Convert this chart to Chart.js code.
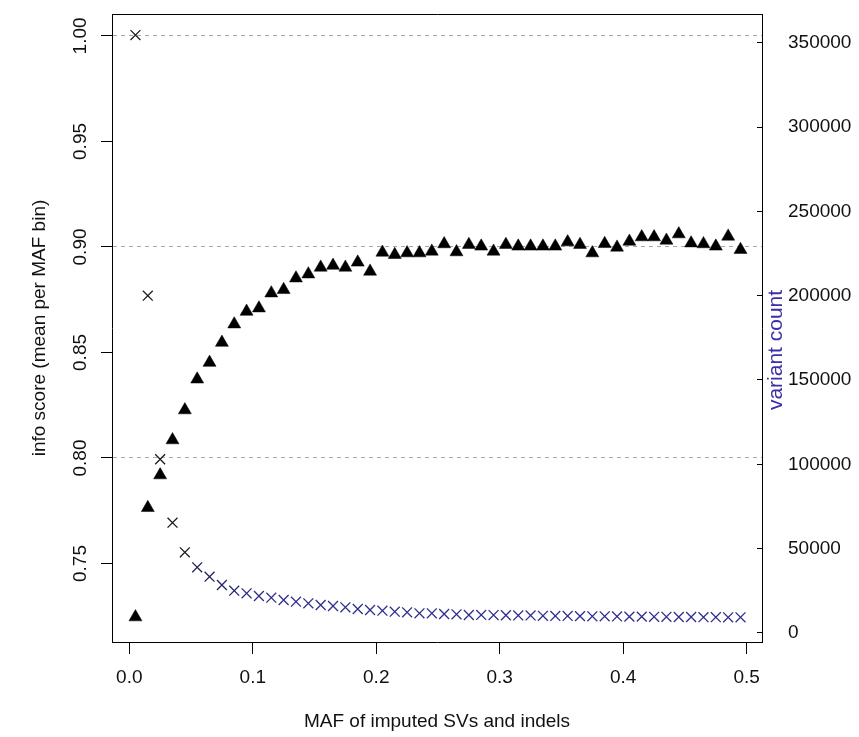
<!DOCTYPE html>
<html>
<head>
<meta charset="utf-8">
<script src="https://cdn.jsdelivr.net/npm/chart.js@4.4.1/dist/chart.umd.min.js"></script>
<style>
  html, body { margin: 0; padding: 0; background: #ffffff; }
  #wrap { width: 859px; height: 737px; }
</style>
</head>
<body>
<div id="wrap"><canvas id="c" width="859" height="737"></canvas></div>
<script>
// MAF bin centres
const mafBins = [0.005, 0.015, 0.025, 0.035, 0.045, 0.055, 0.065, 0.075, 0.085, 0.095,
                 0.105, 0.115, 0.125, 0.135, 0.145, 0.155, 0.165, 0.175, 0.185, 0.195,
                 0.205, 0.215, 0.225, 0.235, 0.245, 0.255, 0.265, 0.275, 0.285, 0.295,
                 0.305, 0.315, 0.325, 0.335, 0.345, 0.355, 0.365, 0.375, 0.385, 0.395,
                 0.405, 0.415, 0.425, 0.435, 0.445, 0.455, 0.465, 0.475, 0.485, 0.495];

// mean info score per MAF bin (left axis, triangles)
const infoScore = [0.7246, 0.7764, 0.7919, 0.8085, 0.8227, 0.8373, 0.8452, 0.8547, 0.8634, 0.8694,
                   0.8710, 0.8781, 0.8797, 0.8852, 0.8871, 0.8903, 0.8912, 0.8903, 0.8927, 0.8884,
                   0.8974, 0.8963, 0.8971, 0.8971, 0.8979, 0.9014, 0.8976, 0.9011, 0.9003, 0.8979,
                   0.9011, 0.9003, 0.9003, 0.9003, 0.9003, 0.9023, 0.9011, 0.8971, 0.9015, 0.8998,
                   0.9026, 0.9047, 0.9047, 0.9031, 0.9061, 0.9018, 0.9014, 0.9003, 0.9050, 0.8987];

// variant count per MAF bin (right axis, crosses)
const variantCount = [354500, 200000, 103000, 65400, 47850, 38950, 33400, 28460, 25080, 23540,
                      21940, 20930, 19570, 18560, 17610, 16600, 16010, 15240, 14230, 13640,
                      13220, 12630, 12270, 11680, 11680, 11270, 11090, 10670, 10700, 10600,
                      10500, 10400, 10400, 10200, 10100, 10100, 10000, 9900, 9900, 9800,
                      9700, 9700, 9600, 9600, 9500, 9500, 9400, 9400, 9300, 9300];

// tick labels
const xTicks = [0.0, 0.1, 0.2, 0.3, 0.4, 0.5];
const leftTicks = [0.75, 0.80, 0.85, 0.90, 0.95, 1.00];
const rightTicks = [0, 50000, 100000, 150000, 200000, 250000, 300000, 350000];

const FONT = 'Liberation Sans, Arial, sans-serif';

const triPoints = mafBins.map((x, i) => ({ x: x, y: infoScore[i] }));
const crossPoints = mafBins.map((x, i) => ({ x: x, y: variantCount[i] }));

function crossColor(ctx) {
  const i = ctx.dataIndex;
  if (i < 5) return '#1c1c1c';
  if (i < 7) return '#1f1f55';
  if (i < 9) return '#25256e';
  return '#2e2e8c';
}

const rightTitlePlugin = {
  id: 'rightTitle',
  afterDraw(chart) {
    const ctx = chart.ctx;
    ctx.save();
    ctx.translate(776, 350);
    ctx.rotate(-Math.PI / 2);
    ctx.font = '21px ' + FONT;
    ctx.fillStyle = '#3a30a8';
    ctx.textAlign = 'center';
    ctx.textBaseline = 'middle';
    ctx.fillText('variant count', 0, 0);
    ctx.restore();
  }
};

function noVPad(s) { s.paddingTop = 0; s.paddingBottom = 0; }

new Chart(document.getElementById('c'), {
  type: 'scatter',
  data: {
    datasets: [
      {
        label: 'variant count',
        data: crossPoints,
        yAxisID: 'y2',
        xAxisID: 'x',
        pointStyle: 'crossRot',
        pointRadius: 7,
        pointBorderWidth: 1.3,
        borderColor: crossColor,
        backgroundColor: crossColor,
        showLine: false,
        order: 2
      },
      {
        label: 'info score',
        data: triPoints,
        yAxisID: 'y',
        xAxisID: 'x',
        pointStyle: 'triangle',
        pointRadius: 7.5,
        pointBorderWidth: 0.5,
        borderColor: '#000000',
        backgroundColor: '#000000',
        showLine: false,
        order: 1
      }
    ]
  },
  options: {
    responsive: false,
    maintainAspectRatio: false,
    animation: false,
    devicePixelRatio: 1,
    layout: { padding: 0 },
    plugins: {
      legend: { display: false },
      tooltip: { enabled: false }
    },
    scales: {
      x: {
        type: 'linear',
        position: 'bottom',
        min: -0.014,
        max: 0.5124,
        afterBuildTicks: (s) => { s.ticks = xTicks.map(v => ({ value: v })); },
        afterFit: (s) => { s.height = 95; },
        ticks: {
          color: '#111111',
          font: { family: FONT, size: 19 },
          padding: 12.6,
          maxRotation: 0,
          minRotation: 0,
          callback: (v) => Number(v).toFixed(1)
        },
        grid: {
          drawOnChartArea: false,
          drawTicks: true,
          tickLength: 12,
          tickColor: '#000000',
          tickWidth: 1
        },
        border: { display: true, color: '#000000', width: 1 },
        title: {
          display: true,
          text: 'MAF of imputed SVs and indels',
          color: '#111111',
          font: { family: FONT, size: 19 },
          padding: { top: 0, bottom: 3.6 }
        }
      },
      xTop: {
        type: 'linear',
        position: 'top',
        min: -0.014,
        max: 0.5124,
        afterFit: (s) => { s.height = 14; },
        ticks: { display: false },
        grid: { drawOnChartArea: false, drawTicks: false },
        border: { display: true, color: '#000000', width: 1 }
      },
      y: {
        type: 'linear',
        position: 'left',
        min: 0.7128,
        max: 1.0104,
        afterBuildTicks: (s) => { s.ticks = leftTicks.map(v => ({ value: v })); },
        afterFit: (s) => { s.width = 112; noVPad(s); },
        ticks: {
          color: '#111111',
          font: { family: FONT, size: 19 },
          padding: 1.5,
          minRotation: 90,
          maxRotation: 90,
          crossAlign: 'center',
          callback: (v) => Number(v).toFixed(2)
        },
        grid: {
          drawOnChartArea: true,
          drawTicks: true,
          tickLength: 11,
          tickColor: '#000000',
          tickWidth: 1,
          lineWidth: 1,
          color: (ctx) => {
            const v = ctx.tick ? ctx.tick.value : 0;
            return Math.abs(v * 10 - Math.round(v * 10)) < 1e-6 ? '#a8a8a8' : 'rgba(0,0,0,0)';
          }
        },
        border: { display: true, color: '#000000', width: 1, dash: [4, 4] },
        title: {
          display: true,
          text: 'info score (mean per MAF bin)',
          color: '#111111',
          font: { family: FONT, size: 19 },
          padding: { top: 28.6, bottom: 0 }
        }
      },
      y2: {
        type: 'linear',
        position: 'right',
        min: -5340,
        max: 367000,
        afterBuildTicks: (s) => { s.ticks = rightTicks.map(v => ({ value: v })); },
        afterFit: (s) => { s.width = 97; noVPad(s); },
        ticks: {
          color: '#111111',
          font: { family: FONT, size: 19 },
          padding: 31,
          callback: (v) => String(v)
        },
        grid: {
          drawOnChartArea: false,
          drawTicks: true,
          tickLength: -5,
          tickColor: '#000000',
          tickWidth: 1
        },
        border: { display: true, color: '#000000', width: 1 }
      }
    }
  },
  plugins: [rightTitlePlugin]
});
</script>
</body>
</html>
